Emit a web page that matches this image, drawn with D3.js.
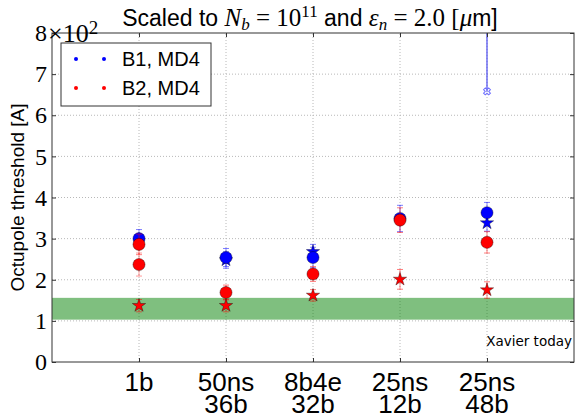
<!DOCTYPE html>
<html>
<head>
<meta charset="utf-8">
<script src="https://cdn.jsdelivr.net/npm/d3@7"></script>
<style>
  body { margin: 0; background: #fff; }
</style>
</head>
<body>
<div id="chart"></div>
<script>
// categories on the x axis (one or two lines each)
const categories = [["1b"], ["50ns", "36b"], ["8b4e", "32b"], ["25ns", "12b"], ["25ns", "48b"]];
const yTicks = [0, 1, 2, 3, 4, 5, 6, 7, 8];

// thresholds in units of 100 A
const b1CircleVal = [3.00, 2.54, 2.54, 3.49, 3.63];
const b1CircleErr = [0.22, 0.22, 0.25, 0.32, 0.25];
const b1StarVal   = [null, 2.48, 2.68, null, 3.38];
const b1StarErr   = [null, 0.20, 0.18, null, 0.20];
const b1CrossVal  = [null, null, null, null, 6.58];
const b1CrossErr  = [null, null, null, null, 3.00];

const b2CircleVal = [2.86, 1.69, 2.14, 3.45, 2.91];
const b2CircleErr = [0.25, 0.18, 0.18, 0.30, 0.26];
const b2LowVal    = [2.37, null, null, null, null];
const b2LowErr    = [0.28, null, null, null, null];
const b2StarVal   = [1.37, 1.37, 1.62, 2.01, 1.75];
const b2StarErr   = [0.15, 0.15, 0.14, 0.24, 0.20];

const bandRange = [1.03, 1.56];
const bandLabel = "Xavier today";

const width = 575, height = 418;
const margin = { left: 52, right: 1, top: 33, bottom: 56 };

const svg = d3.select("#chart").append("svg")
    .attr("width", width)
    .attr("height", height);

const x = d3.scaleLinear().domain([0, 6]).range([margin.left, width - margin.right]);
const y = d3.scaleLinear().domain([0, 8]).range([height - margin.bottom, margin.top]);

svg.append("clipPath").attr("id", "clip")
  .append("rect")
    .attr("x", x(0)).attr("y", y(8))
    .attr("width", x(6) - x(0)).attr("height", y(0) - y(8));

// grid
const grid = svg.append("g").attr("stroke", "#b8b8b8").attr("stroke-dasharray", "1,2");
grid.selectAll(".gy").data(yTicks.slice(1, -1)).join("line")
    .attr("x1", x(0)).attr("x2", x(6))
    .attr("y1", d => y(d)).attr("y2", d => y(d));
grid.selectAll(".gx").data(categories).join("line")
    .attr("x1", (d, i) => x(i + 1)).attr("x2", (d, i) => x(i + 1))
    .attr("y1", y(0)).attr("y2", y(8));

const plot = svg.append("g").attr("clip-path", "url(#clip)");

// green band
plot.append("rect")
    .attr("x", x(0)).attr("width", x(6) - x(0))
    .attr("y", y(bandRange[1])).attr("height", y(bandRange[0]) - y(bandRange[1]))
    .attr("fill", "#008000").attr("fill-opacity", 0.5);

svg.append("text")
    .attr("x", x(6) - 2).attr("y", y(0.4))
    .attr("text-anchor", "end")
    .style("font-family", "DejaVu Sans").style("font-size", "13.5px")
    .text(bandLabel);

function series(vals, errs) {
  return vals.map((v, i) => ({ x: i + 1, v, e: errs[i] })).filter(d => d.v != null);
}

function errorBars(data, color, opacity) {
  const g = plot.append("g").attr("stroke", color).attr("stroke-opacity", opacity).attr("stroke-width", 1);
  data.forEach(d => {
    g.append("line").attr("x1", x(d.x)).attr("x2", x(d.x))
      .attr("y1", y(d.v - d.e)).attr("y2", y(d.v + d.e));
    [d.v - d.e, d.v + d.e].forEach(c => {
      g.append("line").attr("x1", x(d.x) - 3).attr("x2", x(d.x) + 3)
        .attr("y1", y(c)).attr("y2", y(c));
    });
  });
}

function markers(data, color, type, size) {
  plot.append("g").selectAll("path").data(data).join("path")
    .attr("transform", d => `translate(${x(d.x)},${y(d.v)})`)
    .attr("d", d3.symbol().type(type).size(size))
    .attr("fill", color)
    .attr("stroke", "#000").attr("stroke-opacity", 0.6).attr("stroke-width", 0.6);
}

const b1Stars = series(b1StarVal, b1StarErr);
const b1Circles = series(b1CircleVal, b1CircleErr);
const b2Stars = series(b2StarVal, b2StarErr);
const b2Circles = series(b2CircleVal, b2CircleErr);
const b2Low = series(b2LowVal, b2LowErr);

errorBars(b1Stars, "#0000ff", 0.5);
errorBars(b1Circles, "#0000ff", 0.5);
markers(b1Stars, "#0000ff", d3.symbolStar, 55);
markers(b1Circles, "#0000ff", d3.symbolCircle, 115);

errorBars(b2Stars, "#ff0000", 0.5);
errorBars(b2Low, "#ff0000", 0.4);
errorBars(b2Circles, "#ff0000", 0.5);
markers(b2Stars, "#ff0000", d3.symbolStar, 55);
markers(b2Low, "#ff0000", d3.symbolCircle, 115);
markers(b2Circles, "#ff0000", d3.symbolCircle, 115);

// B1 cross with a large upper error
const b1Cross = series(b1CrossVal, b1CrossErr);
plot.append("g").selectAll("line").data(b1Cross).join("line")
    .attr("x1", d => x(d.x)).attr("x2", d => x(d.x))
    .attr("y1", d => y(d.v)).attr("y2", d => y(d.v + d.e))
    .attr("stroke", "#4848f0").attr("stroke-width", 1.2);
plot.append("g").selectAll("path").data(b1Cross).join("path")
    .attr("transform", d => `translate(${x(d.x)},${y(d.v)}) rotate(45)`)
    .attr("d", d3.symbol().type(d3.symbolCross).size(30))
    .attr("fill", "none").attr("stroke", "#7070ff").attr("stroke-width", 1);

// frame and inward ticks
svg.append("rect")
    .attr("x", x(0)).attr("y", y(8))
    .attr("width", x(6) - x(0)).attr("height", y(0) - y(8))
    .attr("fill", "none").attr("stroke", "#333").attr("stroke-width", 1);

const yAxis = svg.append("g")
    .attr("transform", `translate(${x(0)},0)`)
    .call(d3.axisRight(y).tickValues(yTicks).tickSize(4).tickFormat(""));
const yAxisR = svg.append("g")
    .attr("transform", `translate(${x(6)},0)`)
    .call(d3.axisLeft(y).tickValues(yTicks).tickSize(4).tickFormat(""));
const xAxis = svg.append("g")
    .attr("transform", `translate(0,${y(0)})`)
    .call(d3.axisTop(x).tickValues([1, 2, 3, 4, 5]).tickSize(4).tickFormat(""));
const xAxisT = svg.append("g")
    .attr("transform", `translate(0,${y(8)})`)
    .call(d3.axisBottom(x).tickValues([1, 2, 3, 4, 5]).tickSize(4).tickFormat(""));
[yAxis, yAxisR, xAxis, xAxisT].forEach(a => {
  a.select(".domain").remove();
  a.selectAll(".tick line").attr("stroke", "#333");
});

// y tick labels (serif, like the math font)
svg.append("g").selectAll("text").data(yTicks).join("text")
    .attr("x", x(0) - 5).attr("y", d => y(d))
    .attr("dy", "0.34em")
    .attr("text-anchor", "end")
    .style("font-family", "Liberation Serif").style("font-size", "24px")
    .text(d => d);

const offsetText = svg.append("text")
    .attr("x", x(0) - 4).attr("y", y(8)).attr("dy", "0.34em")
    .style("font-family", "Liberation Serif").style("font-size", "26px");
offsetText.append("tspan").text("×10");
offsetText.append("tspan").attr("dy", "-0.42em").style("font-size", "19px").text("2");

// x tick labels
svg.append("g").selectAll("g").data(categories).join("g")
    .each(function(d, i) {
      d3.select(this).selectAll("text").data(d).join("text")
        .attr("x", x(i + 1)).attr("y", (t, j) => y(0) + 29 + j * 22)
        .attr("text-anchor", "middle")
        .style("font-family", "Liberation Sans").style("font-size", "26px")
        .text(t => t);
    });

// y label
svg.append("text")
    .attr("transform", `translate(24,${(y(0) + y(8)) / 2}) rotate(-90)`)
    .attr("text-anchor", "middle")
    .style("font-family", "Liberation Sans").style("font-size", "19px")
    .text("Octupole threshold [A]");

// title with math parts
const title = svg.append("text")
    .attr("x", 310).attr("y", 26)
    .attr("text-anchor", "middle")
    .style("font-family", "Liberation Sans").style("font-size", "23px");
const serif = "Liberation Serif";
title.append("tspan").text("Scaled to ");
title.append("tspan").style("font-family", serif).style("font-style", "italic").style("font-size", "25px").text("N");
title.append("tspan").style("font-family", serif).style("font-style", "italic").style("font-size", "17px").attr("dy", 4).text("b");
title.append("tspan").style("font-family", serif).style("font-size", "25px").attr("dy", -4).text(" = 10");
title.append("tspan").style("font-family", serif).style("font-size", "17px").attr("dy", -9).text("11");
title.append("tspan").attr("dy", 9).text(" and ");
title.append("tspan").style("font-family", serif).style("font-style", "italic").style("font-size", "25px").text("ε");
title.append("tspan").style("font-family", serif).style("font-style", "italic").style("font-size", "17px").attr("dy", 4).text("n");
title.append("tspan").style("font-family", serif).style("font-size", "25px").attr("dy", -4).text(" = 2.0 [");
title.append("tspan").style("font-family", serif).style("font-style", "italic").style("font-size", "25px").text("μ");
title.append("tspan").text("m]");

// legend
const legendItems = [{ label: "B1, MD4", color: "#0000ff" }, { label: "B2, MD4", color: "#ff0000" }];
const legend = svg.append("g").attr("transform", "translate(61,43)");
legend.append("rect")
    .attr("width", 150).attr("height", 63)
    .attr("fill", "#fff").attr("stroke", "#333").attr("stroke-width", 1);
const li = legend.selectAll("g.item").data(legendItems).join("g")
    .attr("class", "item")
    .attr("transform", (d, i) => `translate(0,${16 + i * 29})`);
li.selectAll("circle").data(d => [d, d]).join("circle")
    .attr("cx", (d, i) => 15 + i * 28).attr("cy", 0).attr("r", 2)
    .attr("fill", d => d.color);
li.append("text")
    .attr("x", 61).attr("y", 0).attr("dy", "0.36em")
    .style("font-family", "Liberation Sans").style("font-size", "20px")
    .text(d => d.label);
</script>
</body>
</html>
